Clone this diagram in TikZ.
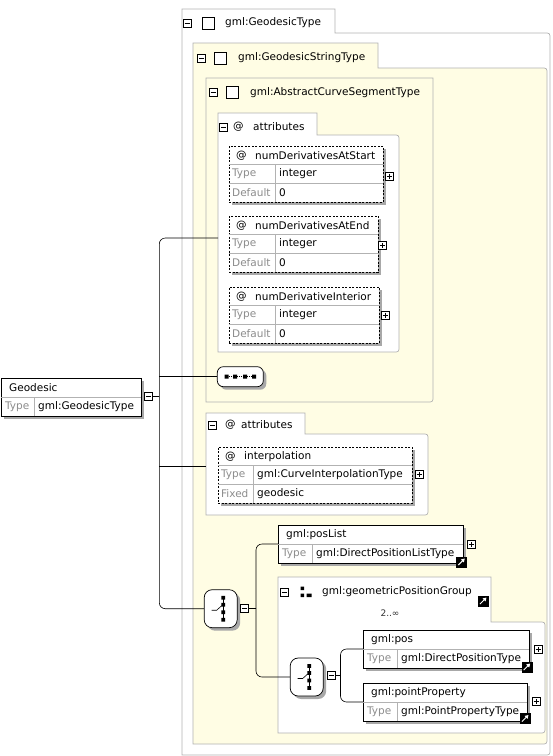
\documentclass[tikz,border=0pt]{standalone}
\usepackage{fontspec}
\setmainfont{DejaVu Sans}
\usetikzlibrary{shadows,arrows.meta}

\definecolor{cream}{RGB}{255,253,228}
\definecolor{frame}{RGB}{178,178,178}
\definecolor{shade}{RGB}{168,168,168}
\definecolor{faint}{RGB}{140,140,140}

\tikzset{
	txt/.style={anchor=west, inner sep=0, font=\fontsize{10.5}{12}\selectfont},
	keytxt/.style={txt, text=faint},
	folderpath/.style={draw=frame, line width=0.7pt},
	rowline/.style={draw=frame, line width=0.6pt},
	conn/.style={line width=0.6pt, rounded corners=6pt},
	elem/.style={draw, fill=white, anchor=north west, inner sep=0, outer sep=0, minimum height=38, line width=0.7pt,
		general shadow={fill=shade, shadow xshift=3pt, shadow yshift=-3pt}},
	attrbox/.style={elem, minimum height=56, dash pattern=on 2pt off 1.5pt},
	minusbox/.style={draw, fill=white, minimum size=8, inner sep=0, line width=0.6pt,
		path picture={\draw ([xshift=1.5pt]path picture bounding box.west) -- ([xshift=-1.5pt]path picture bounding box.east);}},
	plusbox/.style={minusbox,
		path picture={\draw ([xshift=1.5pt]path picture bounding box.west) -- ([xshift=-1.5pt]path picture bounding box.east)
			([yshift=-1.5pt]path picture bounding box.north) -- ([yshift=1.5pt]path picture bounding box.south);}},
	linkicon/.style={draw, fill=black, minimum size=10, inner sep=0,
		path picture={\draw[white, line width=1pt, -{Triangle[length=3.5pt,width=4pt]}] ([shift={(2pt,2pt)}]path picture bounding box.south west) -- ([shift={(-1.5pt,-1.5pt)}]path picture bounding box.north east);}},
	sq/.style={draw, fill=white, minimum size=12, inner sep=0, line width=0.7pt},
	seqicon/.style={draw, fill=white, inner sep=0, line width=0.7pt, rounded corners=6pt,
		general shadow={fill=shade, shadow xshift=3pt, shadow yshift=-3pt}},
}

\begin{document}
\begin{tikzpicture}[x=1pt,y=-1pt]
	%defs
	\def\folder#1#2#3#4#5#6#7{\draw[folderpath, fill=#1] (#2,#7) -- (#2,#3) -- (#4,#3) -- (#4,#5) -- (#6-6,#5) .. controls (#6,#5) .. (#6,#5+6) -- (#6,#7-6) .. controls (#6,#7) .. (#6-6,#7) -- cycle;}
	\def\elem#1#2#3#4#5#6#7{%
		\node[elem, minimum width={#4-#2}] (#1) at (#2,#3) {};
		\draw[rowline] (#2,#3+19) -- (#4,#3+19) (#5,#3+19) -- (#5,#3+38);
		\node[txt] (#1-name) at (#2+8,#3+9.5) {#6};
		\node[keytxt] (#1-key) at (#2+4,#3+28.5) {Type};
		\node[txt] (#1-type) at (#5+4,#3+28.5) {#7};}
	\def\attr#1#2#3#4#5#6#7#8#9{%
		\node[attrbox, minimum width={#4-#2}] (#1) at (#2,#3) {};
		\draw[rowline] (#2,#3+18) -- (#4,#3+18) (#2,#3+37) -- (#4,#3+37) (#5,#3+18) -- (#5,#3+56);
		\node[txt] (#1-at) at (#2+7,#3+9.5) {@};
		\node[txt] (#1-name) at (#2+26,#3+9.5) {#6};
		\node[keytxt] (#1-key) at (#2+3,#3+28) {Type};
		\node[txt] (#1-type) at (#5+4,#3+28) {#7};
		\node[keytxt] (#1-key2) at (#2+3,#3+46.5) {#8};
		\node[txt] (#1-val) at (#5+4,#3+46.5) {#9};}
	\def\choice#1#2#3{%
		\node[seqicon, rounded corners=8pt, minimum width=33, minimum height=38] (#1) at (#2,#3) {};
		\begin{scope}[shift={(#1.center)}]
			\draw[line width=0.6pt] (-9,1.5) -- (-4,1.5) -- (1,-3);
			\draw[line width=0.6pt] (2.5,-11) -- (2.5,11);
			\fill (0.7,-12.8) rectangle +(3.6,3.6) (0.7,-5.8) rectangle +(3.6,3.6) (0.7,1.7) rectangle +(3.6,3.6) (0.7,9.2) rectangle +(3.6,3.6);
		\end{scope}}
	\useasboundingbox (0,0) rectangle (553,756);
	%containers
	\folder{white}{182}{9}{335}{33}{550}{755}
	\folder{cream}{193}{43}{378}{68}{547}{744}
	\draw[folderpath, fill=cream] (206,402) -- (206,78) -- (433,78) -- (433,396) .. controls (433,402) .. (427,402) -- cycle;
	\folder{white}{218}{113}{317}{135}{399}{352}
	\folder{white}{206}{413}{305}{434}{428}{515}
	\folder{white}{278}{577}{491}{622}{545}{733}
	%headers
	\node[minusbox] (mGeodesic) at (187,23) {};
	\node[sq] (sGeodesic) at (208,23) {};
	\node[txt] (tGeodesic) at (225,23) {gml:GeodesicType};
	\node[minusbox] (mString) at (201.5,58) {};
	\node[sq] (sString) at (220,58) {};
	\node[txt] (tString) at (238,58) {gml:GeodesicStringType};
	\node[minusbox] (mSegment) at (213,92.5) {};
	\node[sq] (sSegment) at (232,92.5) {};
	\node[txt] (tSegment) at (250,92.5) {gml:AbstractCurveSegmentType};
	\node[minusbox] (mAttrA) at (223.5,127) {};
	\node[txt] (atAttrA) at (233,127) {@};
	\node[txt] (tAttrA) at (253,127) {attributes};
	\node[minusbox] (mAttrB) at (212.5,425) {};
	\node[txt] (atAttrB) at (225,425) {@};
	\node[txt] (tAttrB) at (241,425) {attributes};
	\node[minusbox] (mGroup) at (284,592) {};
	\fill (300.7,586.5) rectangle +(3.5,3.5) (300.7,593.5) rectangle +(3.5,3.5) (306.5,593.5) rectangle +(5,3.5);
	\node[txt] (tGroup) at (322,592) {gml:geometricPositionGroup};
	\node[txt, anchor=center, font=\fontsize{9}{10}\selectfont, text=black!80] (occurs) at (390,613) {2..∞};
	%elements
	\elem{geodesic}{1}{378}{141}{34}{Geodesic}{gml:GeodesicType}
	\elem{posList}{278}{525}{463}{312}{gml:posList}{gml:DirectPositionListType}
	\elem{pos}{363}{630}{529}{397}{gml:pos}{gml:DirectPositionType}
	\elem{point}{363}{683}{527}{397}{gml:pointProperty}{gml:PointPropertyType}
	\attr{atStart}{229}{146}{383}{275}{numDerivativesAtStart}{integer}{Default}{0}
	\attr{atEnd}{229}{216}{378}{275}{numDerivativesAtEnd}{integer}{Default}{0}
	\attr{interior}{229}{287}{379}{275}{numDerivativeInterior}{integer}{Default}{0}
	\attr{interp}{218}{447}{412}{253}{interpolation}{gml:CurveInterpolationType}{Fixed}{geodesic}
	%icons
	\node[seqicon, minimum width=46, minimum height=20] (seq) at (240.3,376.7) {};
	\begin{scope}[shift={(seq.center)}]
		\draw[line width=1pt, densely dotted] (-13.5,0) -- (13.5,0);
		\fill (-15.6,-2) rectangle +(4,4) (-7.3,-2) rectangle +(4,4) (2.7,-2) rectangle +(4,4) (11.7,-2) rectangle +(4,4);
	\end{scope}
	\choice{choiceA}{220.7}{608.7}
	\choice{choiceB}{306.7}{677}
	%buttons
	\node[minusbox] (gmin) at (148.3,396) {};
	\node[minusbox] (cminA) at (244.5,608) {};
	\node[minusbox] (cminB) at (331,675.5) {};
	\node[plusbox] (pStart) at (389.3,176) {};
	\node[plusbox] (pEnd) at (382.7,245.5) {};
	\node[plusbox] (pInterior) at (385,315) {};
	\node[plusbox] (pInterp) at (419,474.7) {};
	\node[plusbox] (pPosList) at (471.7,544.7) {};
	\node[plusbox] (pPos) at (538,649.5) {};
	\node[plusbox] (pPoint) at (536,701) {};
	\node[linkicon] (lPosList) at (461.3,562) {};
	\node[linkicon] (lGroup) at (483,601) {};
	\node[linkicon] (lPos) at (526.7,667) {};
	\node[linkicon] (lPoint) at (525,718.5) {};
	%lines
	\coordinate (attrA) at (218,238);
	\coordinate (attrB) at (206,466);
	\coordinate (trunk) at (159.3,396);
	\coordinate (trunkB) at (256,608);
	\coordinate (trunkC) at (340.5,675.5);
	\draw[conn] (gmin.east) -- (trunk);
	\draw[conn] (trunk) |- (attrA);
	\draw[conn] (trunk) |- (choiceA.west);
	\draw[conn] (trunk |- seq.west) -- (seq.west);
	\draw[conn] (trunk |- attrB) -- (attrB);
	\draw[conn] (cminA.east) -- (trunkB);
	\draw[conn] (trunkB) |- (posList.west);
	\draw[conn] (trunkB) |- (choiceB.west);
	\draw[conn] (cminB.east) -- (trunkC);
	\draw[conn] (trunkC) |- (pos.west);
	\draw[conn] (trunkC) |- (point.west);
\end{tikzpicture}
\end{document}
